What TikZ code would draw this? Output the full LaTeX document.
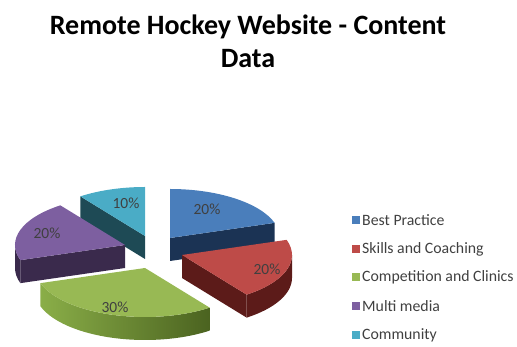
\documentclass[tikz,border=0pt]{standalone}
\usepackage{fontspec}
\usetikzlibrary{calc}
\setmainfont{Carlito}
\definecolor{bluetop}{HTML}{4A7EBB}
\definecolor{blueside}{HTML}{1B3354}
\definecolor{redtop}{HTML}{BE4B48}
\definecolor{redside}{HTML}{5C1B19}
\definecolor{greentop}{HTML}{98B954}
\definecolor{greenlight}{HTML}{8AAE48}
\definecolor{greendark}{HTML}{4B6320}
\definecolor{purpletop}{HTML}{7D5FA0}
\definecolor{purpleside}{HTML}{3A2A4C}
\definecolor{cyantop}{HTML}{4AACC6}
\definecolor{cyanside}{HTML}{1E4A55}
\definecolor{labelgray}{HTML}{404040}
\tikzset{
  pct/.style={font=\fontsize{15.5}{18}\selectfont, text=labelgray, inner sep=0pt},
  legtext/.style={font=\fontsize{15.8}{18}\selectfont, text=labelgray, anchor=west, inner sep=0pt},
  legbox/.style={minimum size=8pt, inner sep=0pt, draw=none},
  titletext/.style={font=\fontsize{28}{33}\selectfont\bfseries, anchor=base, inner sep=0pt}
}
\begin{document}
\begin{tikzpicture}[x=1pt,y=1pt]
\useasboundingbox (0,0) rectangle (517,347);
\def\rx{110}\def\ry{49}\def\th{23}
% ---------- Cyan (Community) 90..126
\coordinate (pc) at (145,111);
\fill[cyanside] (pc) -- ($(pc)+(126:\rx pt and \ry pt)$) -- ++(0,-\th) -- ($(pc)+(0,-\th)$) -- cycle;
\fill[cyantop] (pc) -- ++(90:\rx pt and \ry pt) arc[start angle=90,end angle=126,x radius=\rx,y radius=\ry] -- cycle;
% ---------- Blue (Best Practice) 18..90
\coordinate (pb) at (170,109);
\fill[blueside] (pb) -- ($(pb)+(18:\rx pt and \ry pt)$) -- ++(0,-\th) -- ($(pb)+(0,-\th)$) -- cycle;
\fill[bluetop] (pb) -- ++(18:\rx pt and \ry pt) arc[start angle=18,end angle=90,x radius=\rx,y radius=\ry] -- cycle;
% ---------- Purple (Multi media) 126..198
\coordinate (pp) at (125,102);
\fill[purpleside] (pp) -- ($(pp)+(198:\rx pt and \ry pt)$) -- ++(0,-\th) -- ($(pp)+(0,-\th)$) -- cycle;
\fill[purpleside] ($(pp)+(180:\rx pt and \ry pt)$) arc[start angle=180,end angle=198,x radius=\rx,y radius=\ry] -- ++(0,-\th) arc[start angle=198,end angle=180,x radius=\rx,y radius=\ry] -- cycle;
\fill[purpletop] (pp) -- ++(126:\rx pt and \ry pt) arc[start angle=126,end angle=198,x radius=\rx,y radius=\ry] -- cycle;
% ---------- Red (Skills and Coaching) -54..18
\coordinate (pr) at (182,92);
\fill[redside] (pr) -- ($(pr)+(-54:\rx pt and \ry pt)$) -- ++(0,-\th) -- ($(pr)+(0,-\th)$) -- cycle;
\fill[redside] ($(pr)+(0:\rx pt and \ry pt)$) arc[start angle=0,end angle=-54,x radius=\rx,y radius=\ry] -- ++(0,-\th) arc[start angle=-54,end angle=0,x radius=\rx,y radius=\ry] -- cycle;
\fill[redtop] (pr) -- ++(-54:\rx pt and \ry pt) arc[start angle=-54,end angle=18,x radius=\rx,y radius=\ry] -- cycle;
% ---------- Green (Competition and Clinics) -162..-54
\coordinate (pg) at (145,79);
\shade[left color=greenlight,right color=greendark] ($(pg)+(-162:\rx pt and \ry pt)$) arc[start angle=-162,end angle=-54,x radius=\rx,y radius=\ry] -- ++(0,-\th) arc[start angle=-54,end angle=-162,x radius=\rx,y radius=\ry] -- cycle;
\fill[greentop] (pg) -- ++(-162:\rx pt and \ry pt) arc[start angle=-162,end angle=-54,x radius=\rx,y radius=\ry] -- cycle;
% ---------- Percent labels
\node[pct] (lb) at (207,138) {20\%};
\node[pct] (lr) at (267,78) {20\%};
\node[pct] (lg) at (115,40) {30\%};
\node[pct] (lp) at (47,114) {20\%};
\node[pct] (lc) at (126,144) {10\%};
% ---------- Legend
\node[legbox,fill=bluetop] (k1) at (356,127) {};
\node[legtext] (t1) at (362,127) {Best Practice};
\node[legbox,fill=redtop] (k2) at (356,98) {};
\node[legtext] (t2) at (362,98) {Skills and Coaching};
\node[legbox,fill=greentop] (k3) at (356,70) {};
\node[legtext] (t3) at (362,70) {Competition and Clinics};
\node[legbox,fill=purpletop] (k4) at (356,41) {};
\node[legtext] (t4) at (362,41) {Multi media};
\node[legbox,fill=cyantop] (k5) at (356,12) {};
\node[legtext] (t5) at (362,12) {Community};
% ---------- Title
\node[titletext] (ti1) at (248,312) {Remote Hockey Website - Content};
\node[titletext] (ti2) at (248,279) {Data};
\end{tikzpicture}
\end{document}
